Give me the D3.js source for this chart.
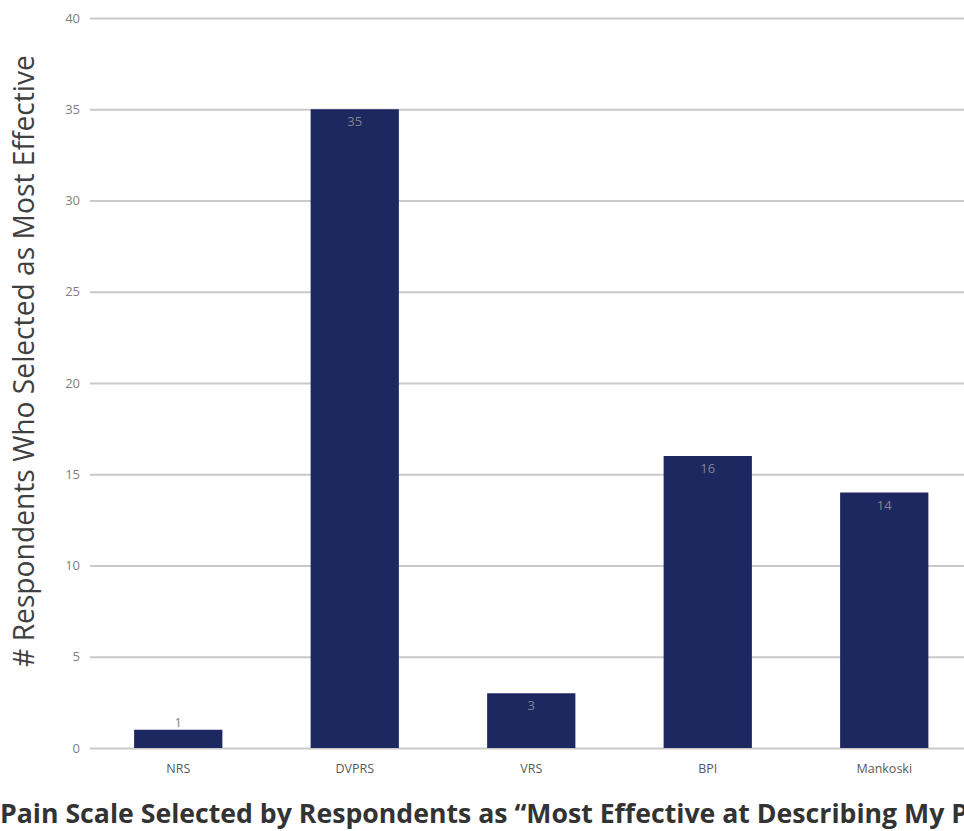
<!DOCTYPE html>
<html>
<head>
<meta charset="utf-8">
<script src="https://cdn.jsdelivr.net/npm/d3@7"></script>
<style>
  html, body { margin: 0; padding: 0; background: #ffffff; overflow: hidden; }
  svg { display: block; }
</style>
</head>
<body>
<svg id="chart" width="964" height="831"></svg>
<script>
// Survey results: preferred pain scale
const categories = ["NRS", "DVPRS", "VRS", "BPI", "Mankoski"];
const counts = [1, 35, 3, 16, 14];
const yTicks = [0, 5, 10, 15, 20, 25, 30, 35, 40];
const yTitle = "# Respondents Who Selected as Most Effective";
const xTitle = "Pain Scale Selected by Respondents as \u201CMost Effective at Describing My Pain\u201D";

const svg = d3.select("#chart");
const font = "'Open Sans', Lato, sans-serif";

const x = d3.scaleBand()
  .domain(categories)
  .range([90, 972.5])
  .paddingInner(0.5)
  .paddingOuter(0.25);

const y = d3.scaleLinear()
  .domain([0, 40])
  .range([748, 18]);

// Gridlines and tick labels
const yAxis = d3.axisLeft(y)
  .tickValues(yTicks)
  .tickSize(-(964 - 90))
  .tickPadding(10);

const gy = svg.append("g")
  .attr("transform", "translate(90,0)")
  .call(yAxis);
gy.select(".domain").remove();
gy.selectAll(".tick line")
  .attr("stroke", "#c9c9c9")
  .attr("stroke-width", 2);
gy.selectAll(".tick text")
  .attr("fill", "#7f7f7f")
  .attr("font-family", font)
  .attr("font-size", 13);

// Bars
svg.append("g")
  .selectAll("rect")
  .data(categories)
  .join("rect")
  .attr("x", d => x(d))
  .attr("width", x.bandwidth())
  .attr("y", (d, i) => y(counts[i]))
  .attr("height", (d, i) => y(0) - y(counts[i]))
  .attr("fill", "#1d2760");

// Value labels: inside the bar top, or just above short bars
svg.append("g")
  .selectAll("text")
  .data(categories)
  .join("text")
  .attr("x", d => x(d) + x.bandwidth() / 2)
  .attr("y", (d, i) => {
    const h = y(0) - y(counts[i]);
    return h < 20 ? y(counts[i]) - 3 : y(counts[i]) + 17;
  })
  .attr("text-anchor", "middle")
  .attr("fill", "#80848f")
  .attr("font-family", font)
  .attr("font-size", 13)
  .text((d, i) => counts[i]);

// Category axis
const gx = svg.append("g")
  .attr("transform", `translate(0,${y(0)})`)
  .call(d3.axisBottom(x).tickSize(0).tickPadding(16));
gx.select(".domain").remove();
gx.selectAll(".tick text")
  .attr("fill", "#595959")
  .attr("font-family", font)
  .attr("font-size", 12.5);

// Axis titles
const yt = svg.append("text")
  .attr("transform", "translate(34,361) rotate(-90)")
  .attr("text-anchor", "middle")
  .attr("fill", "#404040")
  .attr("font-family", font)
  .attr("font-size", 22)
  .text(yTitle);
// scale the font so the title spans ~612px
const ytLen = yt.node().getComputedTextLength();
if (ytLen > 0) yt.attr("font-size", 22 * 612 / ytLen);

const xt = svg.append("text")
  .attr("x", 0)
  .attr("y", 823)
  .attr("fill", "#333333")
  .attr("font-family", font)
  .attr("font-weight", "bold")
  .attr("font-size", 26)
  .text(xTitle);
// size so that "Pain Scale Selected by" spans ~292px
const probe = svg.append("text")
  .attr("font-family", font)
  .attr("font-weight", "bold")
  .attr("font-size", 26)
  .text("Pain Scale Selected by");
const pLen = probe.node().getComputedTextLength();
probe.remove();
if (pLen > 0) xt.attr("font-size", 26 * 292 / pLen);
</script>
</body>
</html>
